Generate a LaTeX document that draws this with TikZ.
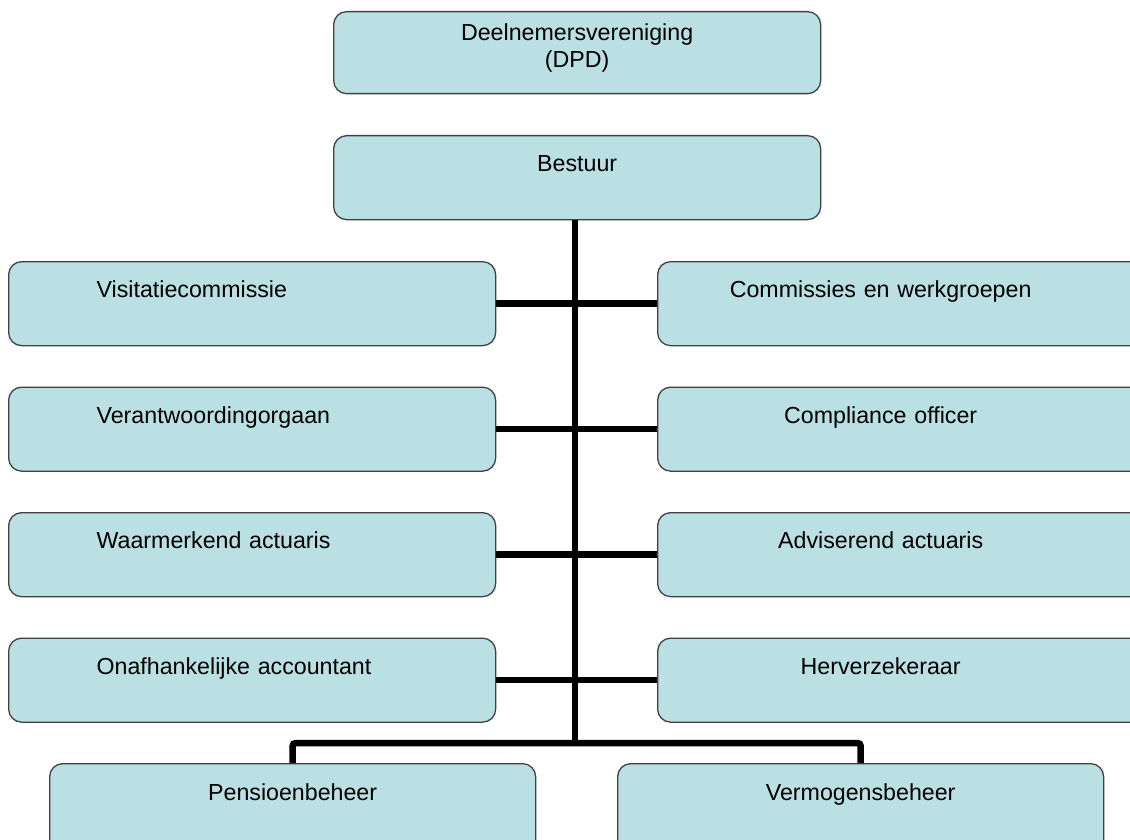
\documentclass[tikz,border=0pt]{standalone}
\usepackage{fontspec}
\setmainfont{Liberation Sans}
\usetikzlibrary{positioning}
\definecolor{boxfill}{HTML}{BBE0E3}
\definecolor{boxline}{HTML}{404040}
\newcommand{\rtxt}[1]{\noindent\makebox[446pt]{#1}}
\begin{document}
\begin{tikzpicture}[x=1pt,y=-1pt,
    font=\fontsize{23.2}{27}\selectfont,
    orgbox/.style={draw=boxline, fill=boxfill, line width=1.3pt, rounded corners=13pt,
      inner sep=0pt, anchor=north west, text height=36pt, text depth=48pt},
    topbox/.style={orgbox, minimum width=487pt},
    leftbox/.style={orgbox, text width=311pt, inner xsep=88pt, align=left},
    rightbox/.style={orgbox, text width=503pt, align=left},
    botbox/.style={orgbox, minimum width=486pt, text height=37pt, text depth=63pt},
    link/.style={line width=6.5pt, rounded corners=3pt}]
  \clip (0,0) rectangle (1130,840);
  \fill[white] (0,0) rectangle (1130,840);
  % top of the chart
  \node[topbox, align=center, text height=56pt, text depth=26pt] (dpd) at (333,11)
    {Deelnemersvereniging\\(DPD)};
  \node[topbox] (bestuur) at (333,135) {Bestuur};
  % left column
  \node[leftbox] (visit) at (8,261) {Visitatiecommissie};
  \node[leftbox] (verant) at (8,386.5) {Verantwoordingorgaan};
  \node[leftbox] (waarm) at (8,512) {Waarmerkend actuaris};
  \node[leftbox] (accnt) at (8,637.5) {Onafhankelijke accountant};
  % right column
  \node[rightbox] (comm) at (657,261) {\rtxt{Commissies en werkgroepen}};
  \node[rightbox] (compl) at (657,386.5) {\rtxt{Compliance officer}};
  \node[rightbox] (advis) at (657,512) {\rtxt{Adviserend actuaris}};
  \node[rightbox] (herv) at (657,637.5) {\rtxt{Herverzekeraar}};
  % bottom row
  \node[botbox] (pens) at (49,763) {Pensioenbeheer};
  \node[botbox] (verm) at (617,763) {Vermogensbeheer};
  \coordinate (bus) at (575,743);
  \begin{scope}[link]
    \draw (bestuur.south -| bus) -- (bus);
    \draw (visit.east) -- (comm.west);
    \draw (verant.east) -- (compl.west);
    \draw (waarm.east) -- (advis.west);
    \draw (accnt.east) -- (herv.west);
    \draw (pens.north) |- (bus) -| (verm.north);
  \end{scope}
\end{tikzpicture}
\end{document}
